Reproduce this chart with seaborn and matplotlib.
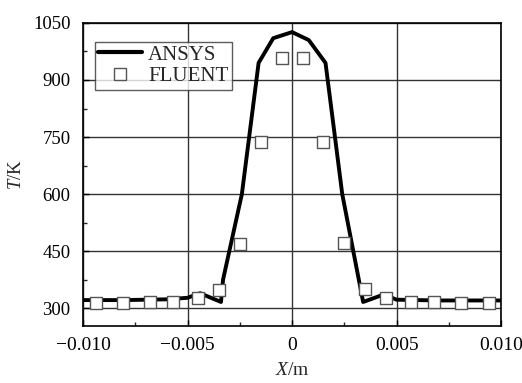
import matplotlib
matplotlib.use("Agg")
import matplotlib.pyplot as plt
import seaborn as sns
import pandas as pd
from matplotlib.ticker import MultipleLocator
from matplotlib.lines import Line2D

sns.set_theme(style="white")
plt.rcParams['font.family'] = ['Liberation Serif', 'DejaVu Serif']
plt.rcParams['mathtext.fontset'] = 'custom'
plt.rcParams['mathtext.it'] = 'Liberation Serif:italic'
plt.rcParams['mathtext.rm'] = 'Liberation Serif'

ansys_x = [-0.0100, -0.0080, -0.0060, -0.0050, -0.0044, -0.0034, -0.0033, -0.0024,
           -0.0016, -0.0009, 0.0000, 0.0008, 0.0016, 0.0024, 0.0034, 0.0044,
           0.0050, 0.0070, 0.0100]
ansys_t = [321, 321, 323, 327, 339, 316, 375, 600,
           945, 1010, 1026, 1005, 945, 600, 316, 336,
           322, 320, 320]

fluent_x = [-0.0094, -0.0081, -0.0068, -0.0057, -0.0045, -0.0035, -0.0025, -0.0015, -0.0005,
            0.0005, 0.0015, 0.0025, 0.0035, 0.0045, 0.0057, 0.0068, 0.0081, 0.0094]
fluent_t = [313, 314, 315, 316, 326, 348, 469, 736, 957,
            957, 737, 472, 349, 326, 316, 315, 314, 313]

df_a = pd.DataFrame({"x": ansys_x, "T": ansys_t})
df_f = pd.DataFrame({"x": fluent_x, "T": fluent_t})

fig = plt.figure(figsize=(5.22, 3.83), dpi=100)
ax = fig.add_axes([0.159, 0.149, 0.801, 0.791])

sns.lineplot(data=df_a, x="x", y="T", sort=False, color="black", linewidth=2.8,
             ax=ax, zorder=3)
sns.scatterplot(data=df_f, x="x", y="T", marker="s", s=70, facecolor="white",
                edgecolor="#555555", linewidth=1.0, ax=ax, zorder=4)

ax.set_xlim(-0.010, 0.010)
ax.set_ylim(253, 1050)
ax.xaxis.set_minor_locator(MultipleLocator(0.0025))
ax.yaxis.set_minor_locator(MultipleLocator(75))
ax.set_xticks([-0.010, -0.005, 0, 0.005, 0.010])
ax.set_xticklabels(["\u22120.010", "\u22120.005", "0", "0.005", "0.010"])
ax.set_yticks([300, 450, 600, 750, 900, 1050])
ax.set_yticklabels(["300", "450", "600", "750", "900", "1050"])
ax.tick_params(axis="x", which="major", labelsize=14, pad=8)
ax.tick_params(axis="y", which="major", labelsize=13.5, pad=9)
ax.tick_params(axis="both", which="major", direction="in", length=4, width=1,
               colors="black")
ax.tick_params(axis="both", which="minor", direction="in", length=3, width=1)
ax.tick_params(axis="both", which="both", bottom=True, left=True, top=False, right=False)
ax.grid(True, which="major", color="#333333", linewidth=1.0)
for sp in ax.spines.values():
    sp.set_color("black")
    sp.set_linewidth(1.2)

ax.set_xlabel("$X$/m", fontsize=14, labelpad=6)
ax.set_ylabel("$T$/K", fontsize=13.5, labelpad=6)

handles = [Line2D([], [], color="black", linewidth=3.0),
           Line2D([], [], marker="s", linestyle="none", markersize=8.5,
                  markerfacecolor="white", markeredgecolor="#555555")]
leg = ax.legend(handles, ["ANSYS", "FLUENT"], loc="upper left", fontsize=15,
                frameon=True, fancybox=False, edgecolor="#333333",
                bbox_to_anchor=(0.029, 0.937), borderaxespad=0.0,
                handlelength=2.1, handletextpad=0.3, labelspacing=0.1,
                borderpad=0.15)
leg.get_frame().set_linewidth(1.0)

fig.savefig("out.png", dpi=100, facecolor="white")
